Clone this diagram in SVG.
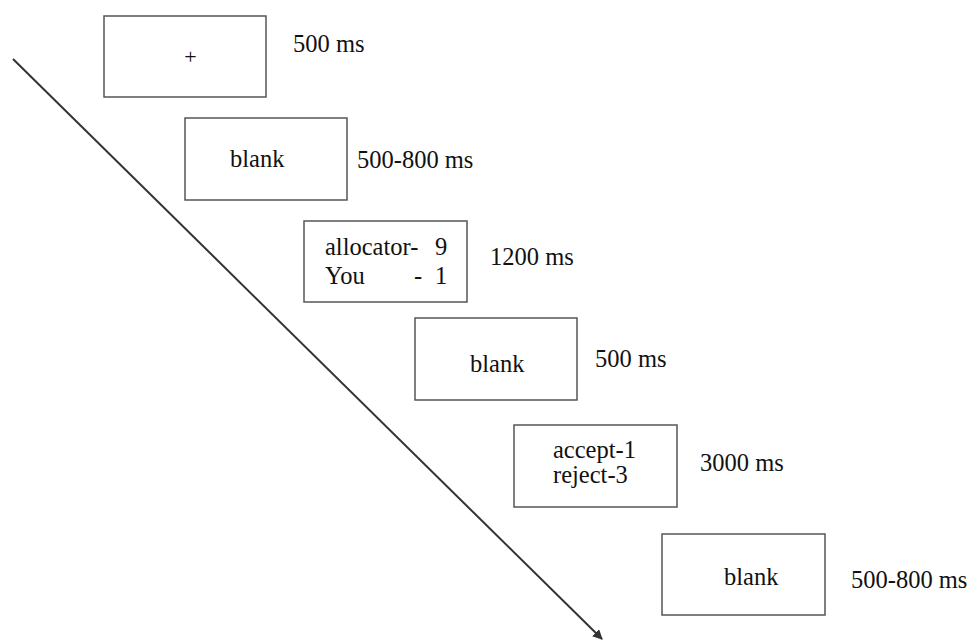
<svg xmlns="http://www.w3.org/2000/svg" width="972" height="641" viewBox="0 0 972 641">
  <style>
    .box { fill: #ffffff; stroke: #555555; stroke-width: 1.5; }
    .t { font-family: 'Liberation Serif', 'DejaVu Serif', serif; font-size: 24.5px; fill: #111111; }
    .conn { stroke: #333333; stroke-width: 2; fill: none; }
  </style>
  <defs>
    <marker id="arrow" viewBox="0 0 10 10" refX="9" refY="5" markerWidth="5" markerHeight="5" orient="auto" markerUnits="strokeWidth">
      <path d="M0,0 L10,5 L0,10 z" fill="#333333"/>
    </marker>
  </defs>
  <rect width="972" height="641" fill="#ffffff"/>

  <g id="connectors">
    <line class="conn" x1="13" y1="59" x2="602" y2="639" marker-end="url(#arrow)"/>
  </g>

  <g id="node-fixation">
    <rect class="box" x="104" y="16" width="162" height="81"/>
    <text class="t" x="190.5" y="64" text-anchor="middle" style="font-size:22px">+</text>
    <text class="t" x="293" y="52">500 ms</text>
  </g>

  <g id="node-blank1">
    <rect class="box" x="185" y="118" width="162" height="82"/>
    <text class="t" x="230" y="167">blank</text>
    <text class="t" x="357" y="168">500-800 ms</text>
  </g>

  <g id="node-offer">
    <rect class="box" x="304" y="221" width="163" height="81"/>
    <text class="t" x="325" y="255">allocator-<tspan x="435">9</tspan></text>
    <text class="t" x="325" y="284">You<tspan x="414">-</tspan><tspan x="435">1</tspan></text>
    <text class="t" x="490" y="265">1200 ms</text>
  </g>

  <g id="node-blank2">
    <rect class="box" x="415" y="318" width="162" height="82"/>
    <text class="t" x="470" y="372">blank</text>
    <text class="t" x="595" y="367">500 ms</text>
  </g>

  <g id="node-response">
    <rect class="box" x="514" y="425" width="163" height="82"/>
    <text class="t" x="553" y="458">accept-1</text>
    <text class="t" x="553" y="483">reject-3</text>
    <text class="t" x="700" y="471">3000 ms</text>
  </g>

  <g id="node-blank3">
    <rect class="box" x="662" y="534" width="163" height="81"/>
    <text class="t" x="724" y="585">blank</text>
    <text class="t" x="851" y="588">500-800 ms</text>
  </g>
</svg>
